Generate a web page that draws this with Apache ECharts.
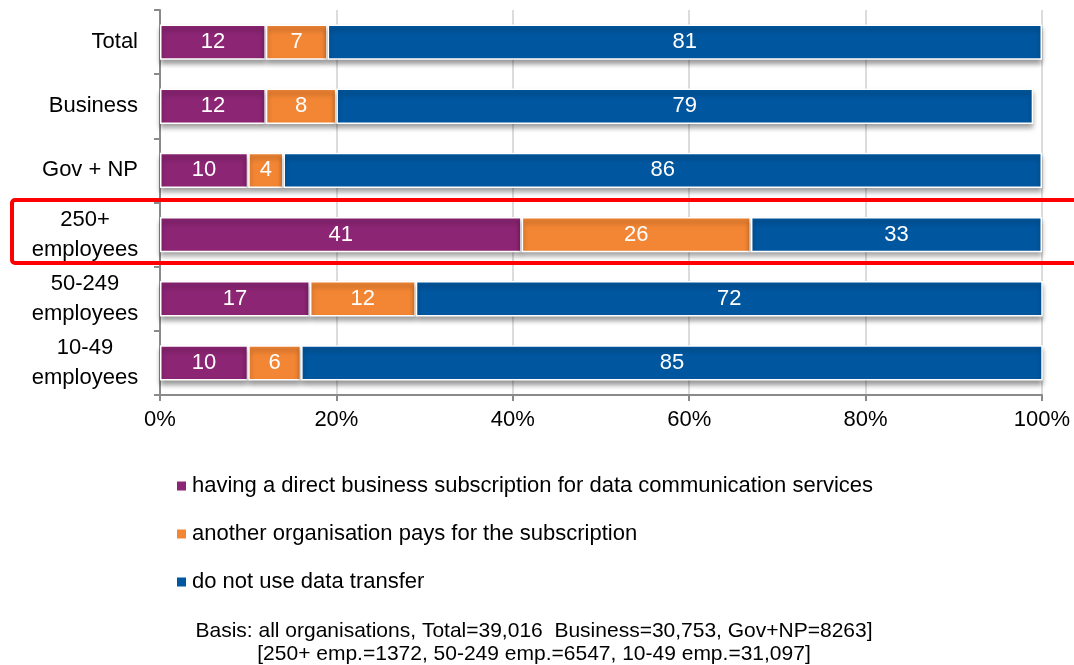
<!DOCTYPE html>
<html>
<head>
<meta charset="utf-8">
<script src="https://cdn.jsdelivr.net/npm/echarts@6/dist/echarts.min.js"></script>
<style>
html,body{margin:0;padding:0;background:#fff;}
#chart{width:1074px;height:665px;}
</style>
</head>
<body>
<div id="chart"></div>
<script>
// Organisation groups (top to bottom)
const categories = ['Total', 'Business', 'Gov + NP', '250+\nemployees', '50-249\nemployees', '10-49\nemployees'];

// Share of organisations, %
const directSubscription = [12, 12, 10, 41, 17, 10];
const otherOrgPays = [7, 8, 4, 26, 12, 6];
const noDataTransfer = [81, 79, 86, 33, 72, 85];

const seriesNames = [
  'having a direct business subscription for data communication services',
  'another organisation pays for the subscription',
  'do not use data transfer'
];

const footnoteLines = [
  'Basis: all organisations, Total=39,016  Business=30,753, Gov+NP=8263]',
  '[250+ emp.=1372, 50-249 emp.=6547, 10-49 emp.=31,097]'
];

const FONT = '"Liberation Sans Narrow", "Arial Narrow", "Liberation Sans", Arial, sans-serif';
const colors = ['#8C2574', '#F38634', '#0057A0'];

const chart = echarts.init(document.getElementById('chart'), null, { renderer: 'canvas' });

function barSeries(name, data, color) {
  return {
    name: name,
    type: 'bar',
    stack: 'all',
    barWidth: '55%',
    data: data,
    itemStyle: {
      color: color,
      borderColor: '#ffffff',
      borderWidth: 1.5,
      shadowColor: 'rgba(0,0,0,0.4)',
      shadowBlur: 5,
      shadowOffsetY: 4
    },
    label: {
      show: true,
      position: 'inside',
      color: '#ffffff',
      fontFamily: FONT,
      fontSize: 22
    }
  };
}

chart.setOption({
  backgroundColor: '#ffffff',
  animation: false,
  color: colors,
  grid: { left: 160, right: 32, top: 10, bottom: 270, containLabel: false },
  xAxis: {
    type: 'value',
    min: 0,
    max: 100,
    interval: 20,
    axisLine: { show: true, lineStyle: { color: '#8a8a8a', width: 2 } },
    axisTick: { show: true, length: 6, lineStyle: { color: '#8a8a8a', width: 2 } },
    splitLine: { show: true, lineStyle: { color: '#dcdcdc', width: 2 } },
    axisLabel: {
      formatter: '{value}%',
      color: '#000000',
      fontFamily: FONT,
      fontSize: 22,
      margin: 14
    }
  },
  yAxis: {
    type: 'category',
    inverse: true,
    data: categories,
    axisLine: { show: true, lineStyle: { color: '#8a8a8a', width: 2 } },
    axisTick: { show: true, length: 6, lineStyle: { color: '#8a8a8a', width: 2 } },
    axisLabel: {
      margin: 22,
      color: '#000000',
      fontFamily: FONT,
      fontSize: 22,
      lineHeight: 30,
      formatter: function (v) {
        const parts = v.split('\n');
        if (parts.length === 1) return '{s|' + v + '}';
        return parts.map(p => '{c|' + p + '}').join('\n');
      },
      rich: {
        s: { fontFamily: FONT, fontSize: 22, color: '#000' },
        c: { fontFamily: FONT, fontSize: 22, color: '#000', width: 106, align: 'center', lineHeight: 30 }
      }
    }
  },
  legend: {
    orient: 'vertical',
    left: 170,
    top: 470,
    icon: 'rect',
    itemWidth: 11,
    itemHeight: 11,
    itemGap: 26,
    textStyle: { fontFamily: FONT, fontSize: 22, color: '#000' },
    data: seriesNames
  },
  series: [
    barSeries(seriesNames[0], directSubscription, colors[0]),
    barSeries(seriesNames[1], otherOrgPays, colors[1]),
    barSeries(seriesNames[2], noDataTransfer, colors[2])
  ],
  graphic: [
    {
      type: 'rect',
      shape: { x: 12, y: 200, width: 1080, height: 63, r: 3 },
      style: { fill: 'none', stroke: '#ff0000', lineWidth: 4 },
      z: 100
    },
    {
      type: 'text',
      x: 534,
      y: 631,
      style: {
        text: footnoteLines[0],
        font: '21px ' + FONT,
        fill: '#000',
        textAlign: 'center',
        textVerticalAlign: 'middle'
      }
    },
    {
      type: 'text',
      x: 534,
      y: 654,
      style: {
        text: footnoteLines[1],
        font: '21px ' + FONT,
        fill: '#000',
        textAlign: 'center',
        textVerticalAlign: 'middle'
      }
    }
  ]
});
</script>
</body>
</html>
